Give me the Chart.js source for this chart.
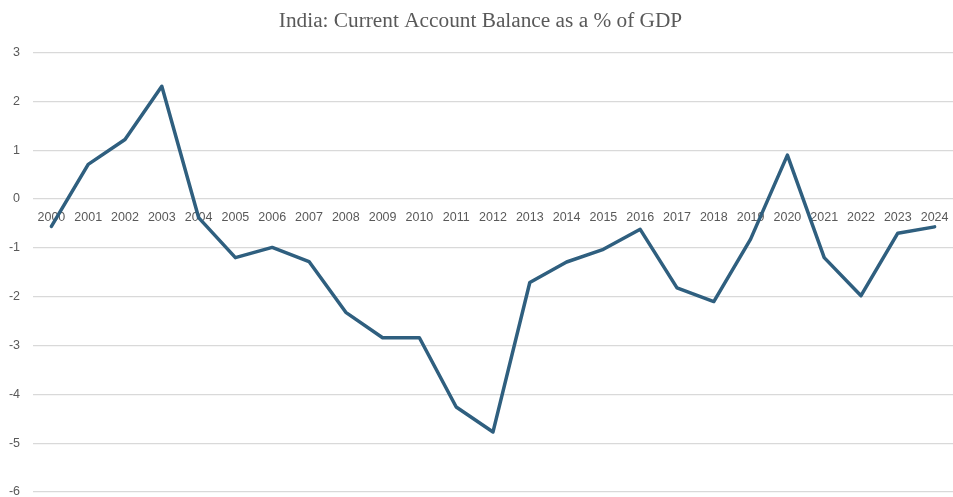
<!doctype html>
<html lang="en">
<head>
    <meta charset="utf-8">
    <style>
        html,
        body {
            margin: 0;
            padding: 0;
            background: #ffffff;
        }

        #wrap {
            width: 953px;
            height: 497px;
            position: relative;
        }
    </style>
    <script src="https://cdn.jsdelivr.net/npm/chart.js@4.4.1/dist/chart.umd.min.js"></script>
</head>
<body>
    <div id="wrap">
        <canvas id="myChart"></canvas>
    </div>

    <script>
        // Leistungsbilanzsaldo Indien, % des BIP
        const years = ['2000', '2001', '2002', '2003', '2004', '2005', '2006', '2007', '2008', '2009',
            '2010', '2011', '2012', '2013', '2014', '2015', '2016', '2017', '2018', '2019',
            '2020', '2021', '2022', '2023', '2024'];
        const balance = [-0.56, 0.71, 1.22, 2.31, -0.38, -1.2, -0.99, -1.28, -2.32, -2.84,
            -2.84, -4.26, -4.77, -1.71, -1.29, -1.03, -0.62, -1.82, -2.1, -0.82,
            0.9, -1.2, -1.98, -0.7, -0.57];
        const yMin = -6;
        const yMax = 3;

        const tickFont = { family: "'Liberation Sans', Arial, sans-serif", size: 12.5 };

        const ctx = document.getElementById('myChart');
        const myChart = new Chart(ctx, {
            type: 'line',
            data: {
                labels: years,
                datasets: [{
                    data: balance,
                    borderColor: '#2f5f7f',
                    borderWidth: 3.5,
                    borderCapStyle: 'round',
                    borderJoinStyle: 'round',
                    pointRadius: 0,
                    tension: 0,
                    fill: false
                }]
            },
            options: {
                responsive: true,
                maintainAspectRatio: false,
                animation: false,
                devicePixelRatio: 1,
                layout: {
                    padding: { left: 8, right: 0, top: 0, bottom: 5 }
                },
                plugins: {
                    legend: { display: false },
                    tooltip: { enabled: false },
                    title: {
                        display: true,
                        text: 'India: Current Account Balance as a % of GDP',
                        color: '#595959',
                        font: { family: "'Liberation Serif', 'Times New Roman', serif", size: 21.3, weight: 'normal' },
                        padding: { top: 9, bottom: 18 }
                    }
                },
                scales: {
                    x: {
                        position: { y: 0 },
                        offset: true,
                        grid: { display: false, drawTicks: true, tickLength: 8 },
                        border: { display: false },
                        ticks: {
                            color: '#595959',
                            font: tickFont,
                            padding: 3,
                            maxRotation: 0,
                            autoSkip: false
                        },
                        afterFit: (scale) => {
                            scale.paddingLeft = 0;
                            scale.paddingRight = 0;
                        }
                    },
                    y: {
                        min: yMin,
                        max: yMax,
                        grid: { color: '#d9d9d9', lineWidth: 1.3, drawTicks: false },
                        border: { display: false },
                        ticks: {
                            stepSize: 1,
                            color: '#595959',
                            font: tickFont,
                            padding: 13
                        },
                        afterFit: (scale) => {
                            scale.width = 25;
                            scale.paddingBottom = 0;
                        }
                    }
                }
            }
        });
    </script>
</body>
</html>
